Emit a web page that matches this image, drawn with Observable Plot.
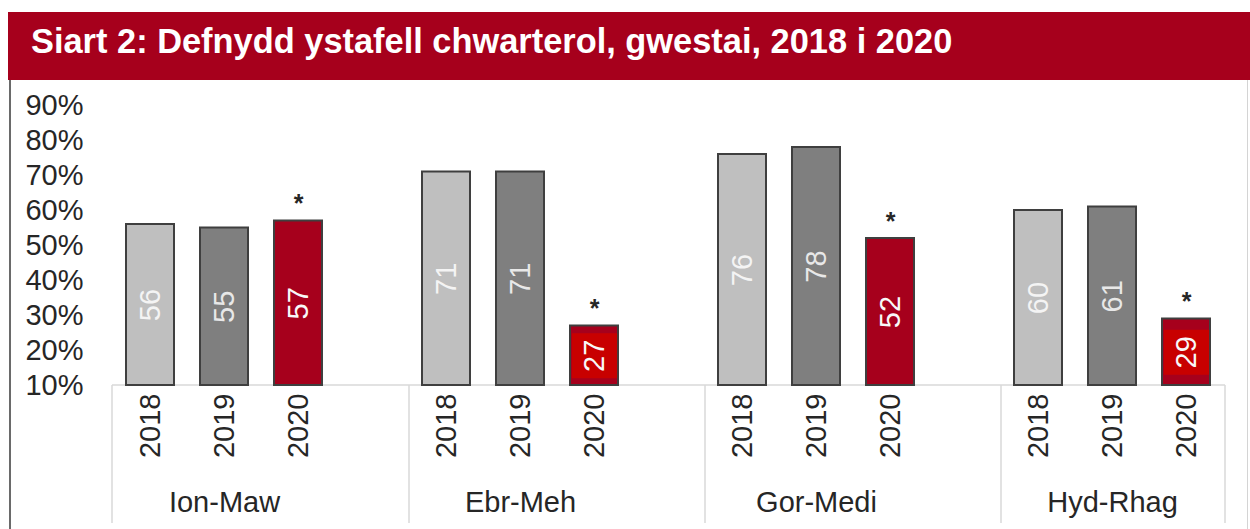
<!DOCTYPE html>
<html>
<head>
<meta charset="utf-8">
<script src="https://cdn.jsdelivr.net/npm/d3@7"></script>
<script src="https://cdn.jsdelivr.net/npm/@observablehq/plot@0.6"></script>
<style>
  html, body { margin: 0; padding: 0; background: #fff; }
  #wrap { position: relative; width: 1250px; height: 529px; overflow: hidden; font-family: "Liberation Sans", Arial, sans-serif; }
  #title { position: absolute; left: 8px; top: 12px; width: 1242px; height: 68px; background: #a6001c;
    color: #fff; font-weight: bold; font-size: 34.4px; line-height: 58px; padding-left: 23px; box-sizing: border-box; white-space: nowrap; }
  #chart { position: absolute; left: 0; top: 80px; }
  #lborder { position: absolute; left: 9px; top: 80px; width: 2px; height: 449px; background: #6a6a6a; }
  #rborder { position: absolute; left: 1247px; top: 80px; width: 1px; height: 449px; background: #d4d4d4; }
</style>
</head>
<body>
<div id="wrap">
  <div id="title">Siart 2: Defnydd ystafell chwarterol, gwestai, 2018 i 2020</div>
  <div id="lborder"></div>
  <div id="rborder"></div>
  <div id="chart"></div>
</div>
<script>
// ---- data ----
const groups = ["Ion-Maw", "Ebr-Meh", "Gor-Medi", "Hyd-Rhag"];
const years = ["2018", "2019", "2020"];
const values2018 = [56, 71, 76, 60];
const values2019 = [55, 71, 78, 61];
const values2020 = [57, 27, 52, 29];
const flagged2020 = [true, true, true, true];   // asterisk marks
const yTicks = [10, 20, 30, 40, 50, 60, 70, 80, 90];

// ---- derived tables ----
const series = [values2018, values2019, values2020];
const keyOf = (g, y) => g + "|" + y;
const xDomain = [];
groups.forEach((g, i) => {
  years.forEach(y => xDomain.push(keyOf(g, y)));
  if (i < groups.length - 1) xDomain.push(keyOf(g, "gap"));
});
const data = groups.flatMap((g, i) => years.map((y, j) => ({
  group: g, year: y, value: series[j][i], key: keyOf(g, y),
  flag: y === "2020" && flagged2020[i]
})));
const base = yTicks[0];
const barKeys = data.map(d => d.key);

const colors = { "2018": "#bfbfbf", "2019": "#7f7f7f", "2020": "#a6001c" };

const chart = Plot.plot({
  width: 1250,
  height: 449,
  marginLeft: 112,
  marginRight: 25,
  marginTop: 25,
  marginBottom: 144,
  style: { fontFamily: "'Liberation Sans', Arial, sans-serif", fontSize: "29px", color: "#262626", overflow: "visible", background: "transparent" },
  x: { domain: xDomain, paddingInner: 0.35, paddingOuter: 0.175, axis: null, label: null },
  y: { domain: [yTicks[0], yTicks[yTicks.length - 1]], axis: null, label: null },
  color: { domain: years, range: years.map(y => colors[y]) },
  marks: [
    Plot.axisY({ ticks: yTicks, tickSize: 0, tickPadding: 29, tickFormat: d => d + "%", fontSize: 29, fill: "#262626", label: null }),
    Plot.axisX({ ticks: barKeys, tickSize: 0, tickPadding: 8, tickRotate: -90, tickFormat: k => k.split("|")[1], fontSize: 29, fill: "#262626", label: null }),
    Plot.text(groups, { x: g => keyOf(g, "2019"), frameAnchor: "bottom", dy: 126, text: d => d, fontSize: 29, fill: "#262626" }),
    Plot.barY(data, { x: "key", y1: base, y2: "value", fill: "year", stroke: "#3f3f3f", strokeWidth: 2 }),
    Plot.dot(data.filter(d => d.year === "2020" && d.value < 35), {
      x: "key", y: d => (base + d.value) / 2, symbol: "square", r: 25.5, fill: "#c80000", stroke: null
    }),
    Plot.text(data, {
      x: "key", y: d => (base + d.value) / 2, text: d => String(d.value), rotate: -90, fontSize: 29,
      fill: d => d.year === "2018" ? "#f4f4f4" : d.year === "2019" ? "#e8e8e8" : "#f8f8f8"
    }),
    Plot.text(data.filter(d => d.flag), { x: "key", y: "value", text: () => "*", dy: -17, fontSize: 25, fontWeight: "bold", fill: "#262626" })
  ]
});

document.getElementById("chart").appendChild(chart);

// category box under the x axis (drawn from the plot's own scales)
const xs = chart.scale("x");
const ys = chart.scale("y");
const bw = xs.bandwidth;
const svg = d3.select(chart.tagName.toLowerCase() === "svg" ? chart : chart.querySelector("svg"));
const y0 = ys.apply(base);
const yBottom = 443;
const g = svg.append("g").attr("stroke", "#d9d9d9").attr("stroke-width", 1.5);
const left = xs.range[0], right = xs.range[1];
g.append("line").attr("x1", left).attr("x2", right).attr("y1", y0).attr("y2", y0);
const bounds = [left];
groups.forEach((gr, i) => {
  if (i > 0) {
    const prevGap = keyOf(groups[i - 1], "gap");
    bounds.push((xs.apply(prevGap) + bw + xs.apply(keyOf(gr, years[0]))) / 2);
  }
});
bounds.push(right);
bounds.forEach(x => g.append("line").attr("x1", x).attr("x2", x).attr("y1", y0).attr("y2", yBottom));
// keep box behind the bars
svg.node().insertBefore(g.node(), svg.node().querySelector("g[aria-label='bar']"));
</script>
</body>
</html>
